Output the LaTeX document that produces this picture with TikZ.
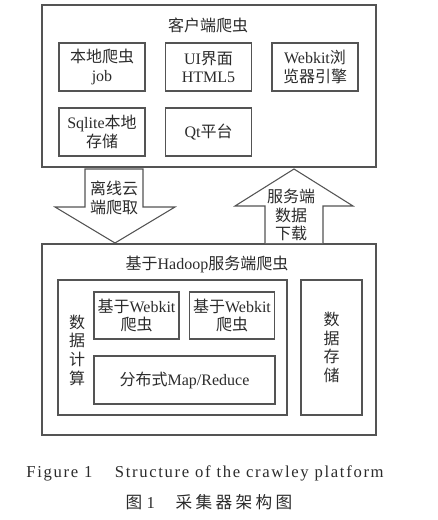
\documentclass[tikz,border=0pt]{standalone}
\usepackage{fontspec}
\setmainfont{Liberation Serif}
\newfontfamily\cjk{Noto Sans CJK SC}
\newfontfamily\capfont[LetterSpace=10]{Liberation Serif}
\newfontfamily\capcjk[LetterSpace=20]{Noto Sans CJK SC}
\usetikzlibrary{positioning}
\definecolor{linegray}{rgb}{0.33,0.33,0.33}
\definecolor{txtgray}{rgb}{0.17,0.17,0.17}
\newcommand{\zh}[1]{{\cjk #1}}

\begin{document}
\begin{tikzpicture}[x=0.75pt,y=0.75pt,yscale=-1,xscale=1,
	box/.style={draw=linegray, line width=0.8pt, inner sep=0pt, align=center, text=txtgray, font=\fontsize{12}{14}\selectfont},
	txt/.style={inner sep=0pt, align=center, text=txtgray, font=\fontsize{12}{14}\selectfont},
	blockarrow/.style={draw=linegray, line width=0.8pt, fill=white, line join=miter}]
	\useasboundingbox (0,0) rectangle (438,520);
	
	%Shape: client box
	\node [box, minimum width=250.5pt, minimum height=121.5pt] (client) at (209,86) {};
	% Text Node
	\node [txt] (clienttitle) at (208,25) {\zh{客户端爬虫}};
	\node [box, minimum width=64.5pt, minimum height=36pt] (localjob) at (102,67) {\zh{本地爬虫}\\job};
	\node [box, minimum width=64.5pt, minimum height=36pt] (uihtml) at (208.5,67) {UI\zh{界面}\\HTML5};
	\node [box, minimum width=64.5pt, minimum height=36pt] (webkit) at (315,67) {Webkit\zh{浏}\\\zh{览器引擎}};
	\node [box, minimum width=64.5pt, minimum height=36pt] (sqlite) at (102,132) {Sqlite\zh{本地}\\\zh{存储}};
	\node [box, minimum width=64.5pt, minimum height=36pt] (qt) at (208.5,132) {Qt\zh{平台}};
	
	%Shape: server box
	\node [box, minimum width=250.5pt, minimum height=143.25pt] (server) at (209,339.5) {};
	% Text Node
	\node [txt] (servertitle) at (207,264) {\zh{基于}Hadoop\zh{服务端爬虫}};
	\node [box, minimum width=171.75pt, minimum height=101.25pt] (compute) at (172.5,347.5) {};
	\node [txt] (computelabel) at (77,350) {\zh{数}\\\zh{据}\\\zh{计}\\\zh{算}};
	\node [box, minimum width=63.75pt, minimum height=35.25pt] (crawlera) at (136.5,315.5) {\zh{基于}Webkit\\\zh{爬虫}};
	\node [box, minimum width=63.75pt, minimum height=35.25pt] (crawlerb) at (232,315.5) {\zh{基于}Webkit\\\zh{爬虫}};
	\node [box, minimum width=135.75pt, minimum height=36pt] (mapreduce) at (184.5,380) {\zh{分布式}Map/Reduce};
	\node [box, minimum width=45.75pt, minimum height=101.25pt] (storage) at (331.5,347.5) {\zh{数}\\\zh{据}\\\zh{存}\\\zh{储}};
	
	%Shape: down arrow
	\draw [blockarrow] (85,169) -- (143,169) -- (143,207) -- (175,207) -- (115,243) -- (55,207) -- (85,207) -- cycle;
	\node [txt] (offline) at (114,198) {\zh{离线云}\\\zh{端爬取}};
	%Shape: up arrow
	\draw [blockarrow] (265,243) -- (265,206) -- (235,206) -- (294,169) -- (353,206) -- (323,206) -- (323,243);
	\node [txt] (download) at (291,215) {\zh{服务端}\\\zh{数据}\\\zh{下载}};
	
	% Caption
	\node [txt, font=\fontsize{12.5}{15}\capfont] (capen) at (205,473) {Figure 1\quad\ Structure of the crawley platform};
	\node [txt, font=\fontsize{12.5}{15}\selectfont] (capzh) at (209,502) {{\capcjk 图} 1\quad\ {\capcjk 采集器架构图}};
\end{tikzpicture}
\end{document}
